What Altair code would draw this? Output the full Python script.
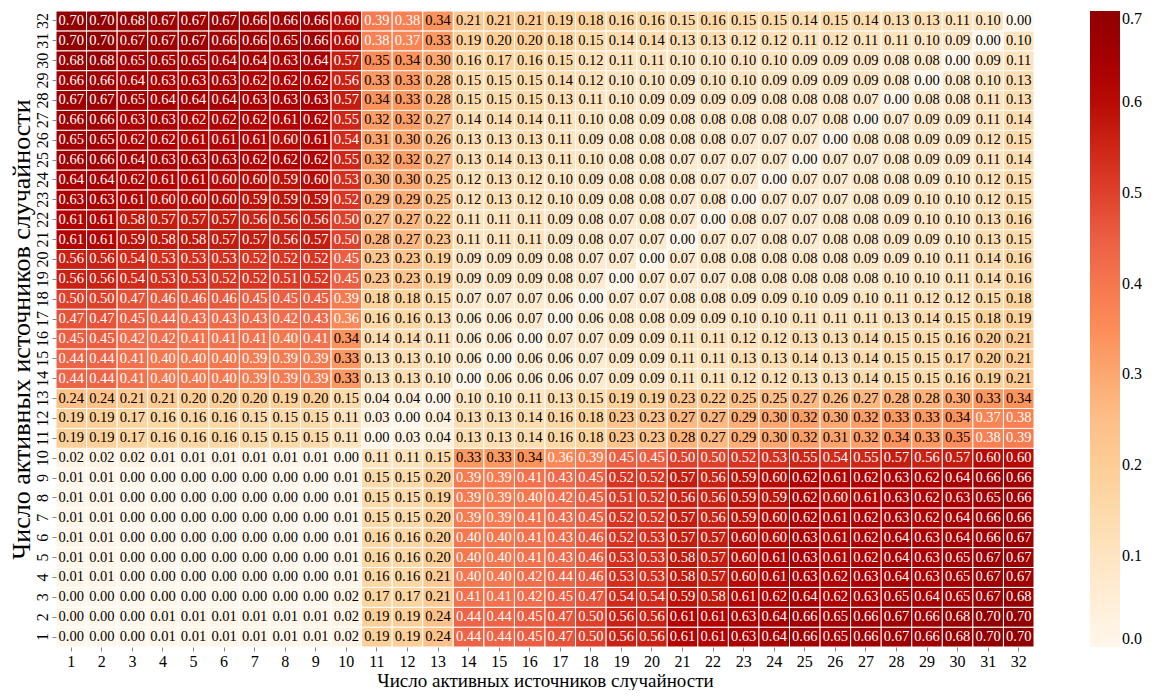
import altair as alt
import pandas as pd

sources = list(range(1, 33))

# rows listed by y value (number of active sources on the y axis); columns are x = 1..32
r32 = [0.70,0.70,0.68,0.67,0.67,0.67,0.66,0.66,0.66,0.60,0.39,0.38,0.34,0.21,0.21,0.21,0.19,0.18,0.16,0.16,0.15,0.16,0.15,0.15,0.14,0.15,0.14,0.13,0.13,0.11,0.10,0.00]
r31 = [0.70,0.70,0.67,0.67,0.67,0.66,0.66,0.65,0.66,0.60,0.38,0.37,0.33,0.19,0.20,0.20,0.18,0.15,0.14,0.14,0.13,0.13,0.12,0.12,0.11,0.12,0.11,0.11,0.10,0.09,0.00,0.10]
r30 = [0.68,0.68,0.65,0.65,0.65,0.64,0.64,0.63,0.64,0.57,0.35,0.34,0.30,0.16,0.17,0.16,0.15,0.12,0.11,0.11,0.10,0.10,0.10,0.10,0.09,0.09,0.09,0.08,0.08,0.00,0.09,0.11]
r29 = [0.66,0.66,0.64,0.63,0.63,0.63,0.62,0.62,0.62,0.56,0.33,0.33,0.28,0.15,0.15,0.15,0.14,0.12,0.10,0.10,0.09,0.10,0.10,0.09,0.09,0.09,0.09,0.08,0.00,0.08,0.10,0.13]
r28 = [0.67,0.67,0.65,0.64,0.64,0.64,0.63,0.63,0.63,0.57,0.34,0.33,0.28,0.15,0.15,0.15,0.13,0.11,0.10,0.09,0.09,0.09,0.09,0.08,0.08,0.08,0.07,0.00,0.08,0.08,0.11,0.13]
r27 = [0.66,0.66,0.63,0.63,0.62,0.62,0.62,0.61,0.62,0.55,0.32,0.32,0.27,0.14,0.14,0.14,0.11,0.10,0.08,0.09,0.08,0.08,0.08,0.08,0.07,0.08,0.00,0.07,0.09,0.09,0.11,0.14]
r26 = [0.65,0.65,0.62,0.62,0.61,0.61,0.61,0.60,0.61,0.54,0.31,0.30,0.26,0.13,0.13,0.13,0.11,0.09,0.08,0.08,0.08,0.08,0.07,0.07,0.07,0.00,0.08,0.08,0.09,0.09,0.12,0.15]
r25 = [0.66,0.66,0.64,0.63,0.63,0.63,0.62,0.62,0.62,0.55,0.32,0.32,0.27,0.13,0.14,0.13,0.11,0.10,0.08,0.08,0.07,0.07,0.07,0.07,0.00,0.07,0.07,0.08,0.09,0.09,0.11,0.14]
r24 = [0.64,0.64,0.62,0.61,0.61,0.60,0.60,0.59,0.60,0.53,0.30,0.30,0.25,0.12,0.13,0.12,0.10,0.09,0.08,0.08,0.08,0.07,0.07,0.00,0.07,0.07,0.08,0.08,0.09,0.10,0.12,0.15]
r23 = [0.63,0.63,0.61,0.60,0.60,0.60,0.59,0.59,0.59,0.52,0.29,0.29,0.25,0.12,0.13,0.12,0.10,0.09,0.08,0.08,0.07,0.08,0.00,0.07,0.07,0.07,0.08,0.09,0.10,0.10,0.12,0.15]
r22 = [0.61,0.61,0.58,0.57,0.57,0.57,0.56,0.56,0.56,0.50,0.27,0.27,0.22,0.11,0.11,0.11,0.09,0.08,0.07,0.08,0.07,0.00,0.08,0.07,0.07,0.08,0.08,0.09,0.10,0.10,0.13,0.16]
r21 = [0.61,0.61,0.59,0.58,0.58,0.57,0.57,0.56,0.57,0.50,0.28,0.27,0.23,0.11,0.11,0.11,0.09,0.08,0.07,0.07,0.00,0.07,0.07,0.08,0.07,0.08,0.08,0.09,0.09,0.10,0.13,0.15]
r20 = [0.56,0.56,0.54,0.53,0.53,0.53,0.52,0.52,0.52,0.45,0.23,0.23,0.19,0.09,0.09,0.09,0.08,0.07,0.07,0.00,0.07,0.08,0.08,0.08,0.08,0.08,0.09,0.09,0.10,0.11,0.14,0.16]
r19 = [0.56,0.56,0.54,0.53,0.53,0.52,0.52,0.51,0.52,0.45,0.23,0.23,0.19,0.09,0.09,0.09,0.08,0.07,0.00,0.07,0.07,0.07,0.08,0.08,0.08,0.08,0.08,0.10,0.10,0.11,0.14,0.16]
r18 = [0.50,0.50,0.47,0.46,0.46,0.46,0.45,0.45,0.45,0.39,0.18,0.18,0.15,0.07,0.07,0.07,0.06,0.00,0.07,0.07,0.08,0.08,0.09,0.09,0.10,0.09,0.10,0.11,0.12,0.12,0.15,0.18]
r17 = [0.47,0.47,0.45,0.44,0.43,0.43,0.43,0.42,0.43,0.36,0.16,0.16,0.13,0.06,0.06,0.07,0.00,0.06,0.08,0.08,0.09,0.09,0.10,0.10,0.11,0.11,0.11,0.13,0.14,0.15,0.18,0.19]
r16 = [0.45,0.45,0.42,0.42,0.41,0.41,0.41,0.40,0.41,0.34,0.14,0.14,0.11,0.06,0.06,0.00,0.07,0.07,0.09,0.09,0.11,0.11,0.12,0.12,0.13,0.13,0.14,0.15,0.15,0.16,0.20,0.21]
r15 = [0.44,0.44,0.41,0.40,0.40,0.40,0.39,0.39,0.39,0.33,0.13,0.13,0.10,0.06,0.00,0.06,0.06,0.07,0.09,0.09,0.11,0.11,0.13,0.13,0.14,0.13,0.14,0.15,0.15,0.17,0.20,0.21]
r14 = [0.44,0.44,0.41,0.40,0.40,0.40,0.39,0.39,0.39,0.33,0.13,0.13,0.10,0.00,0.06,0.06,0.06,0.07,0.09,0.09,0.11,0.11,0.12,0.12,0.13,0.13,0.14,0.15,0.15,0.16,0.19,0.21]
r13 = [0.24,0.24,0.21,0.21,0.20,0.20,0.20,0.19,0.20,0.15,0.04,0.04,0.00,0.10,0.10,0.11,0.13,0.15,0.19,0.19,0.23,0.22,0.25,0.25,0.27,0.26,0.27,0.28,0.28,0.30,0.33,0.34]
r12 = [0.19,0.19,0.17,0.16,0.16,0.16,0.15,0.15,0.15,0.11,0.03,0.00,0.04,0.13,0.13,0.14,0.16,0.18,0.23,0.23,0.27,0.27,0.29,0.30,0.32,0.30,0.32,0.33,0.33,0.34,0.37,0.38]
r11 = [0.19,0.19,0.17,0.16,0.16,0.16,0.15,0.15,0.15,0.11,0.00,0.03,0.04,0.13,0.13,0.14,0.16,0.18,0.23,0.23,0.28,0.27,0.29,0.30,0.32,0.31,0.32,0.34,0.33,0.35,0.38,0.39]
r10 = [0.02,0.02,0.02,0.01,0.01,0.01,0.01,0.01,0.01,0.00,0.11,0.11,0.15,0.33,0.33,0.34,0.36,0.39,0.45,0.45,0.50,0.50,0.52,0.53,0.55,0.54,0.55,0.57,0.56,0.57,0.60,0.60]
r09 = [0.01,0.01,0.00,0.00,0.00,0.00,0.00,0.00,0.00,0.01,0.15,0.15,0.20,0.39,0.39,0.41,0.43,0.45,0.52,0.52,0.57,0.56,0.59,0.60,0.62,0.61,0.62,0.63,0.62,0.64,0.66,0.66]
r08 = [0.01,0.01,0.00,0.00,0.00,0.00,0.00,0.00,0.00,0.01,0.15,0.15,0.19,0.39,0.39,0.40,0.42,0.45,0.51,0.52,0.56,0.56,0.59,0.59,0.62,0.60,0.61,0.63,0.62,0.63,0.65,0.66]
r07 = [0.01,0.01,0.00,0.00,0.00,0.00,0.00,0.00,0.00,0.01,0.15,0.15,0.20,0.39,0.39,0.41,0.43,0.45,0.52,0.52,0.57,0.56,0.59,0.60,0.62,0.61,0.62,0.63,0.62,0.64,0.66,0.66]
r06 = [0.01,0.01,0.00,0.00,0.00,0.00,0.00,0.00,0.00,0.01,0.16,0.16,0.20,0.40,0.40,0.41,0.43,0.46,0.52,0.53,0.57,0.57,0.60,0.60,0.63,0.61,0.62,0.64,0.63,0.64,0.66,0.67]
r05 = [0.01,0.01,0.00,0.00,0.00,0.00,0.00,0.00,0.00,0.01,0.16,0.16,0.20,0.40,0.40,0.41,0.43,0.46,0.53,0.53,0.58,0.57,0.60,0.61,0.63,0.61,0.62,0.64,0.63,0.65,0.67,0.67]
r04 = [0.01,0.01,0.00,0.00,0.00,0.00,0.00,0.00,0.00,0.01,0.16,0.16,0.21,0.40,0.40,0.42,0.44,0.46,0.53,0.53,0.58,0.57,0.60,0.61,0.63,0.62,0.63,0.64,0.63,0.65,0.67,0.67]
r03 = [0.00,0.00,0.00,0.00,0.00,0.00,0.00,0.00,0.00,0.02,0.17,0.17,0.21,0.41,0.41,0.42,0.45,0.47,0.54,0.54,0.59,0.58,0.61,0.62,0.64,0.62,0.63,0.65,0.64,0.65,0.67,0.68]
r02 = [0.00,0.00,0.00,0.01,0.01,0.01,0.01,0.01,0.01,0.02,0.19,0.19,0.24,0.44,0.44,0.45,0.47,0.50,0.56,0.56,0.61,0.61,0.63,0.64,0.66,0.65,0.66,0.67,0.66,0.68,0.70,0.70]
r01 = [0.00,0.00,0.00,0.01,0.01,0.01,0.01,0.01,0.01,0.02,0.19,0.19,0.24,0.44,0.44,0.45,0.47,0.50,0.56,0.56,0.61,0.61,0.63,0.64,0.66,0.65,0.66,0.67,0.66,0.68,0.70,0.70]

rows = [r01, r02, r03, r04, r05, r06, r07, r08, r09, r10, r11, r12, r13, r14, r15, r16,
        r17, r18, r19, r20, r21, r22, r23, r24, r25, r26, r27, r28, r29, r30, r31, r32]

legend_ticks = [0.0, 0.1, 0.2, 0.3, 0.4, 0.5, 0.6, 0.7]
oranges_reds = ["#fff7ec", "#fee8c8", "#fdd49e", "#fdbb84", "#fc8d59",
                "#ef6548", "#d7301f", "#b30000", "#900000"]
axis_title = "Число активных источников случайности"

records = []
for yi, row in zip(sources, rows):
    for xi, v in zip(sources, row):
        records.append({"x": xi, "y": yi, "v": v, "label": f"{v:.2f}"})
df = pd.DataFrame(records)

FONT = "Liberation Serif, Times New Roman, DejaVu Serif, serif"

x_enc = alt.X("x:O", sort=sources, title=axis_title,
              axis=alt.Axis(labelAngle=0, labelFontSize=16, titleFontSize=19,
                            labelFont=FONT, titleFont=FONT, domain=False,
                            tickSize=4, titlePadding=2, labelPadding=2,
                            titleFontWeight="normal", labelColor="black", titleColor="black"))
y_enc = alt.Y("y:O", sort=list(reversed(sources)), title=axis_title,
              axis=alt.Axis(labelAngle=-90, labelFontSize=16, titleFontSize=26,
                            labelFont=FONT, titleFont=FONT, domain=False,
                            tickSize=4, titlePadding=0, labelPadding=2,
                            labelAlign="center", labelBaseline="bottom",
                            titleFontWeight="normal", labelColor="black", titleColor="black"))

base = alt.Chart(df)

rect = base.mark_rect(stroke="white", strokeWidth=1).encode(
    x=x_enc,
    y=y_enc,
    color=alt.Color("v:Q",
                    scale=alt.Scale(range=oranges_reds, domain=[0, 0.7]),
                    legend=alt.Legend(title=None, values=legend_ticks, format=".1f",
                                      gradientLength=636, gradientThickness=30,
                                      labelFontSize=16, labelFont=FONT, offset=56,
                                      labelColor="black", gradientStrokeWidth=0)),
)

text = base.mark_text(font=FONT, fontSize=14.5).encode(
    x=alt.X("x:O", sort=sources),
    y=alt.Y("y:O", sort=list(reversed(sources))),
    text="label:N",
    color=alt.condition(alt.datum.v > 0.355, alt.value("white"), alt.value("black")),
)

chart = alt.layer(rect, text).properties(
    width=978, height=636,
    padding={"top": 2, "left": 0, "right": 0, "bottom": 0},
).configure_view(strokeWidth=0)

chart.save("out.html", embed_options={"renderer": "svg", "actions": False})
